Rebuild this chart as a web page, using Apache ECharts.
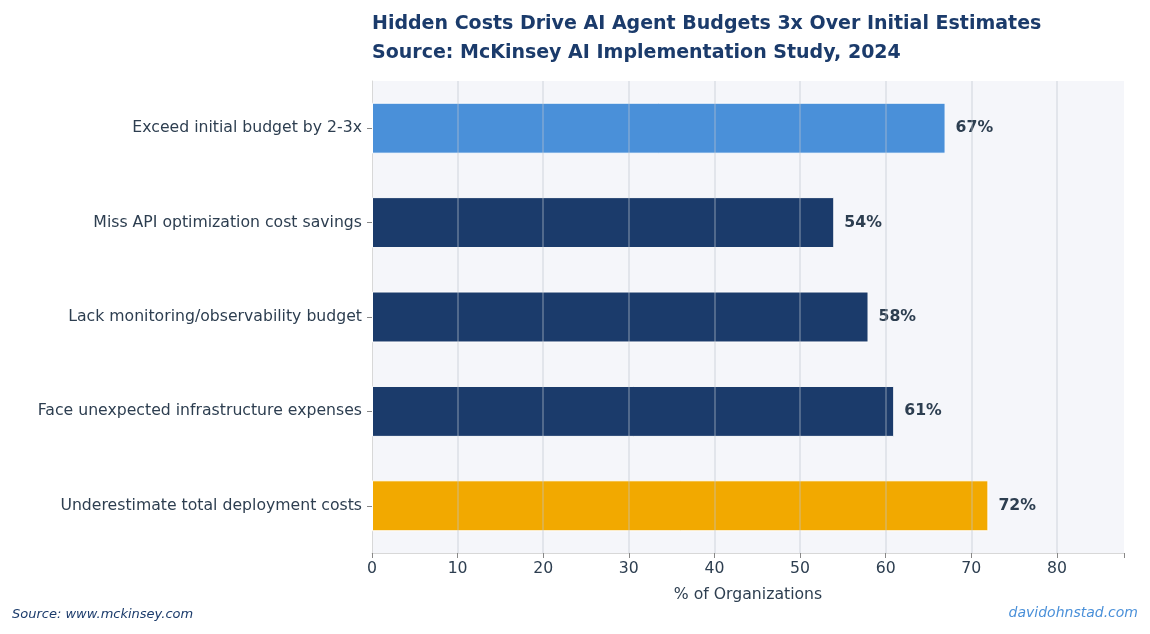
<!DOCTYPE html>
<html lang="en">
<head>
<meta charset="utf-8">
<title>Hidden Costs</title>
<script src="https://cdn.jsdelivr.net/npm/echarts@6/dist/echarts.min.js"></script>
<style>html,body{margin:0;padding:0;background:#fff}#main{width:1150px;height:634px}</style>
</head>
<body>
<div id="main"></div>
<script>
var categories = ['Exceed initial budget by 2-3x', 'Miss API optimization cost savings', 'Lack monitoring/observability budget', 'Face unexpected infrastructure expenses', 'Underestimate total deployment costs'];
var values = [67, 54, 58, 61, 72];
var barColors = ['#4a90d9', '#1b3b6b', '#1b3b6b', '#1b3b6b', '#f2a900'];
var ticks = [10, 20, 30, 40, 50, 60, 70, 80];
var FONT = 'DejaVu Sans';

var chart = echarts.init(document.getElementById('main'));
chart.setOption({
    backgroundColor: '#fff',
    animation: false,
    textStyle: { fontFamily: FONT },
    title: {
        text: 'Hidden Costs Drive AI Agent Budgets 3x Over Initial Estimates\nSource: McKinsey AI Implementation Study, 2024',
        left: 367, top: 5,
        textStyle: { fontFamily: FONT, fontSize: 19, fontWeight: 'bold', color: '#1b3b6b', lineHeight: 29 }
    },
    grid: { left: 372, right: 26, top: 81, bottom: 81, backgroundColor: '#f5f6fa', show: true, borderWidth: 0 },
    xAxis: {
        type: 'value', min: 0, max: 87.84, interval: 10,
        name: '% of Organizations', nameLocation: 'middle', nameGap: 34,
        nameTextStyle: { fontFamily: FONT, fontSize: 15.7, color: '#2d3e50' },
        axisLine: { show: true, lineStyle: { color: '#d8d8d8' } },
        axisTick: { show: true, lineStyle: { color: '#888' } },
        axisLabel: { fontFamily: FONT, fontSize: 15.7, color: '#2d3e50',
            formatter: function (v) { return v > 85 ? '' : v; } },
        splitLine: { show: false }
    },
    yAxis: {
        type: 'category', data: categories, inverse: true,
        axisLine: { show: true, lineStyle: { color: '#d8d8d8' } },
        axisTick: { show: true, alignWithLabel: true, lineStyle: { color: '#888' } },
        axisLabel: { fontFamily: FONT, fontSize: 15.7, color: '#2d3e50', margin: 10 }
    },
    series: [{
        type: 'bar', barWidth: '54%',
        data: values.map(function (v, i) {
            return { value: v, itemStyle: { color: barColors[i] } };
        }),
        itemStyle: { borderColor: '#fff', borderWidth: 1 },
        label: { show: true, position: 'right', distance: 10, formatter: '{c}%',
            fontFamily: FONT, fontSize: 15.7, fontWeight: 'bold', color: '#2d3e50' },
        markLine: {
            silent: true, symbol: 'none', label: { show: false },
            lineStyle: { color: 'rgba(190,195,205,0.45)', type: 'solid', width: 1.5 },
            data: ticks.map(function (t) { return { xAxis: t }; })
        }
    }],
    graphic: [
        { type: 'text', left: 12, top: 608, style: { text: 'Source: www.mckinsey.com', fontFamily: FONT, fontSize: 13, fontStyle: 'italic', fill: '#1b3b6b' } },
        { type: 'text', right: 12, top: 606, style: { text: 'davidohnstad.com', fontFamily: FONT, fontSize: 14, fontStyle: 'italic', fill: '#4a90d9' } }
    ]
});
window.onresize = chart.resize;
</script>
</body>
</html>
